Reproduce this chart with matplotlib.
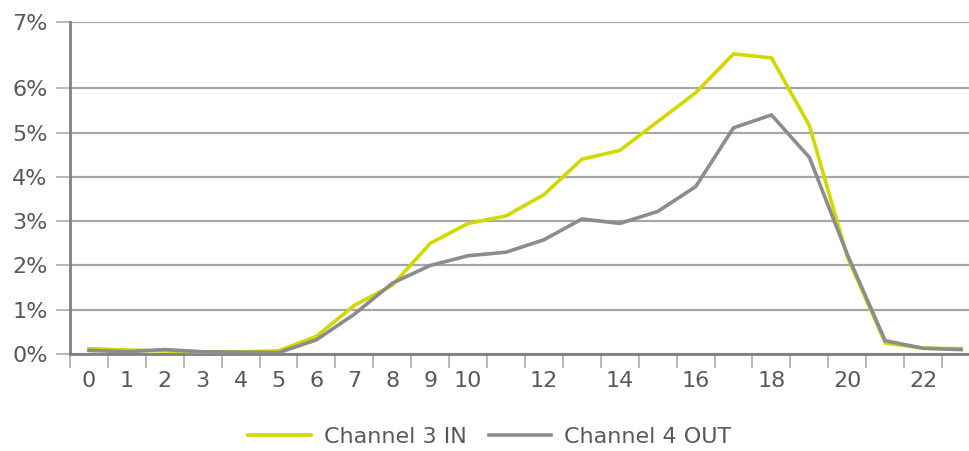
import numpy as np
import matplotlib
matplotlib.use("Agg")
import matplotlib.pyplot as plt

# hours 0..23 and share per hour (%)
hours = list(range(24))
ch3_in = [0.12, 0.09, 0.07, 0.05, 0.05, 0.07, 0.40, 1.10, 1.55, 2.50, 2.95, 3.12,
          3.60, 4.40, 4.60, 5.25, 5.90, 6.78, 6.69, 5.16, 2.20, 0.25, 0.13, 0.12]
ch4_out = [0.08, 0.05, 0.10, 0.05, 0.04, 0.03, 0.32, 0.90, 1.60, 2.00, 2.22, 2.30,
           2.58, 3.05, 2.95, 3.22, 3.78, 5.11, 5.40, 4.44, 2.25, 0.30, 0.13, 0.10]
series_names = ["Channel 3 IN", "Channel 4 OUT"]
xtick_pos = [0, 1, 2, 3, 4, 5, 6, 7, 8, 9, 10, 12, 14, 16, 18, 20, 22]
ytick_pos = [0, 1, 2, 3, 4, 5, 6, 7.5]
ytick_labels = ["0%", "1%", "2%", "3%", "4%", "5%", "6%", "7%"]

W, H = 970, 451
fig = plt.figure(figsize=(W / 100, H / 100), dpi=100)
left, right, top, bottom = 70, 980, 22, 354
ax = fig.add_axes([left / W, (H - bottom) / H, (right - left) / W, (bottom - top) / H])

text_col = "#595959"
grid_col = "#a6a6a6"
axis_col = "#808080"
fs = 16

ax.plot(hours, ch3_in, color="#d2d800", lw=2.6, label=series_names[0], zorder=3)
ax.plot(hours, ch4_out, color="#8c8c8c", lw=2.6, label=series_names[1], zorder=3)

ax.set_xlim(-0.5, 23.5)
ax.set_ylim(0, 7.5)

ax.set_yticks(ytick_pos)
ax.set_yticklabels(ytick_labels)
ax.yaxis.grid(True, color=grid_col, lw=1.6)
ax.set_axisbelow(True)

ax.set_xticks(xtick_pos)
ax.set_xticklabels([str(x) for x in xtick_pos])
ax.set_xticks(np.arange(-0.5, 24, 1), minor=True)
ax.tick_params(axis="x", which="major", length=0, pad=12, labelsize=fs, labelcolor=text_col)
ax.tick_params(axis="x", which="minor", length=10, width=1.4, color="#b8b8b8")
ax.tick_params(axis="y", length=10, width=1.4, color="#b8b8b8", labelsize=fs,
               labelcolor=text_col, pad=6)

for s in ["top", "right"]:
    ax.spines[s].set_visible(False)
for s in ["left", "bottom"]:
    ax.spines[s].set_color(axis_col)
    ax.spines[s].set_linewidth(2)

fig.legend(loc="center", bbox_to_anchor=(490 / W, 1 - 437 / H), ncol=2, frameon=False,
           fontsize=fs, labelcolor=text_col, handlelength=2.8, columnspacing=1.0,
           handletextpad=0.6, borderaxespad=0)

fig.savefig("out.png", dpi=100)
